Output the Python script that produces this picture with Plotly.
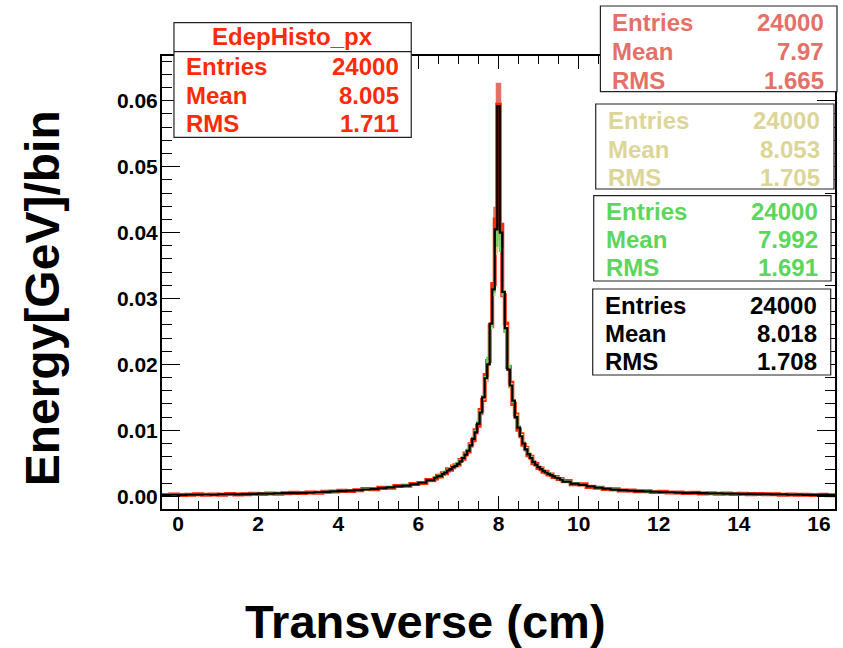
import numpy as np
import plotly.graph_objects as go

# ---------------- data ----------------
# bin edges: coarse tails, fine core around the peak at 8 cm
edges = np.concatenate([
    np.linspace(-0.4, 6.4, 35)[:-1],
    np.linspace(6.4, 9.6, 52)[:-1],
    np.linspace(9.6, 16.4, 35),
])

pink_vals = [
    0.00019,0.00021,0.00020,0.00023,0.00024,0.00025,0.00026,0.00028,0.00029,0.00031,0.00033,0.00035,0.00037,0.00040,0.00042,0.00045,0.00048,0.00051,0.00055,0.00059,0.00065,0.00071,0.00077,0.00084,0.00092,0.00101,0.00110,0.00121,0.00133,0.00147,0.00161,0.00179,0.00203,0.00235,
    0.0027,0.0029,0.0031,0.0033,0.0036,0.0038,0.0041,0.0043,0.0046,0.0049,0.0053,0.0057,0.0062,0.0068,0.0076,0.0085,0.0096,0.0109,0.0125,0.0148,0.0176,0.0205,0.0260,0.0320,0.0437,0.0625,0.0390,0.0305,0.0250,0.0195,0.0166,0.0142,0.0119,0.0103,0.0090,0.0079,0.0070,0.0063,0.0057,0.0052,0.0047,0.0044,0.0040,0.0038,0.0035,0.0033,0.0031,0.0029,0.0028,0.0026,0.0025,
    0.0022,0.0019,0.0017,0.0015,0.0013,0.0011,0.00100,0.00092,0.00084,0.00077,0.00071,0.00066,0.00062,0.00058,0.00054,0.00051,0.00048,0.00045,0.00043,0.00041,0.00039,0.00037,0.00035,0.00033,0.00031,0.00030,0.00028,0.00026,0.00024,0.00023,0.00021,0.00020,0.00018,0.00017,
]

red_vals = [
    0.00018,0.00025,0.00017,0.00022,0.00028,0.00021,0.00027,0.00024,0.00033,0.00026,0.00031,0.00038,0.00034,0.00043,0.00039,0.00044,0.00051,0.00047,0.00058,0.00053,0.00068,0.00070,0.00082,0.00080,0.00091,0.00108,0.00105,0.00127,0.00130,0.00155,0.00158,0.00185,0.00200,0.00245,
    0.0027,0.0031,0.0030,0.0035,0.0035,0.0041,0.0040,0.0045,0.0047,0.0048,0.0055,0.0057,0.0065,0.0068,0.0079,0.0085,0.0100,0.0107,0.0131,0.0146,0.0184,0.0205,0.0258,0.0322,0.0420,0.0594,0.0412,0.0305,0.0262,0.0196,0.0172,0.0140,0.0124,0.0101,0.0094,0.0078,0.0073,0.0062,0.0060,0.0050,0.0049,0.0043,0.0042,0.0037,0.0037,0.0033,0.0033,0.0029,0.0029,0.0026,0.0026,
    0.0023,0.0018,0.0018,0.0014,0.0013,0.0011,0.00104,0.00088,0.00087,0.00074,0.00075,0.00064,0.00066,0.00056,0.00057,0.00049,0.00052,0.00043,0.00046,0.00039,0.00042,0.00035,0.00037,0.00031,0.00034,0.00028,0.00030,0.00024,0.00027,0.00021,0.00023,0.00018,0.00021,0.00016,
]

khaki_vals = [
    0.00022,0.00021,0.00020,0.00025,0.00024,0.00025,0.00028,0.00027,0.00031,0.00031,0.00034,0.00036,0.00039,0.00041,0.00043,0.00047,0.00049,0.00054,0.00056,0.00062,0.00067,0.00074,0.00079,0.00087,0.00095,0.00104,0.00113,0.00124,0.00136,0.00150,0.00165,0.00183,0.00208,0.00238,
    0.0028,0.0031,0.0032,0.0035,0.0037,0.0040,0.0042,0.0045,0.0047,0.0051,0.0054,0.0059,0.0064,0.0070,0.0078,0.0088,0.0098,0.0112,0.0128,0.0148,0.0176,0.0205,0.0255,0.0305,0.0368,0.0400,0.0375,0.0312,0.0258,0.0200,0.0170,0.0146,0.0123,0.0106,0.0093,0.0082,0.0073,0.0066,0.0059,0.0054,0.0049,0.0046,0.0042,0.0039,0.0037,0.0035,0.0033,0.0031,0.0029,0.0027,0.0026,
    0.0023,0.0020,0.0017,0.0015,0.0014,0.0012,0.00105,0.00096,0.00087,0.00080,0.00074,0.00069,0.00064,0.00060,0.00056,0.00053,0.00050,0.00047,0.00045,0.00042,0.00040,0.00038,0.00036,0.00034,0.00033,0.00031,0.00029,0.00027,0.00025,0.00024,0.00022,0.00021,0.00019,0.00018,
]

green_vals = [
    0.00021,0.00020,0.00023,0.00022,0.00025,0.00027,0.00026,0.00030,0.00029,0.00032,0.00034,0.00037,0.00036,0.00042,0.00044,0.00045,0.00050,0.00053,0.00057,0.00061,0.00068,0.00071,0.00080,0.00086,0.00096,0.00104,0.00115,0.00124,0.00138,0.00150,0.00166,0.00184,0.00210,0.00245,
    0.0029,0.0030,0.0033,0.0034,0.0038,0.0039,0.0043,0.0045,0.0048,0.0050,0.0055,0.0059,0.0065,0.0071,0.0079,0.0089,0.0099,0.0113,0.0129,0.0152,0.0181,0.0210,0.0258,0.0310,0.0380,0.0406,0.0372,0.0305,0.0250,0.0198,0.0166,0.0143,0.0122,0.0106,0.0090,0.0082,0.0072,0.0065,0.0059,0.0053,0.0049,0.0045,0.0042,0.0039,0.0036,0.0035,0.0032,0.0031,0.0028,0.0028,0.0025,
    0.0022,0.0020,0.0017,0.0015,0.0013,0.0012,0.00102,0.00094,0.00085,0.00079,0.00071,0.00069,0.00062,0.00061,0.00054,0.00053,0.00049,0.00047,0.00043,0.00043,0.00039,0.00039,0.00035,0.00035,0.00031,0.00032,0.00028,0.00028,0.00024,0.00024,0.00020,0.00021,0.00018,0.00019,
]

black_vals = [
    0.00020,0.00022,0.00019,0.00024,0.00023,0.00026,0.00025,0.00028,0.00030,0.00029,0.00033,0.00035,0.00038,0.00040,0.00042,0.00046,0.00048,0.00052,0.00055,0.00060,0.00066,0.00072,0.00078,0.00085,0.00094,0.00102,0.00112,0.00122,0.00134,0.00148,0.00162,0.00180,0.00205,0.00240,
    0.0028,0.0030,0.0031,0.0034,0.0036,0.0039,0.0041,0.0044,0.0046,0.0049,0.0053,0.0058,0.0063,0.0069,0.0077,0.0087,0.0097,0.0110,0.0127,0.0150,0.0179,0.0200,0.0262,0.0314,0.0405,0.0592,0.0400,0.0310,0.0255,0.0192,0.0168,0.0145,0.0120,0.0104,0.0091,0.0080,0.0071,0.0064,0.0058,0.0052,0.0048,0.0044,0.0041,0.0038,0.0036,0.0034,0.0032,0.0030,0.0028,0.0027,0.0025,
    0.0022,0.0019,0.0017,0.0015,0.0013,0.00115,0.00100,0.00093,0.00084,0.00078,0.00072,0.00068,0.00063,0.00060,0.00055,0.00052,0.00050,0.00046,0.00044,0.00042,0.00040,0.00038,0.00036,0.00034,0.00032,0.00031,0.00028,0.00027,0.00025,0.00023,0.00021,0.00020,0.00019,0.00018,
]

stat_labels = ["Entries", "Mean", "RMS"]
pink_stats = ["24000", "7.97", "1.665"]
khaki_stats = ["24000", "8.053", "1.705"]
green_stats = ["24000", "7.992", "1.691"]
black_stats = ["24000", "8.018", "1.708"]
red_stats = ["24000", "8.005", "1.711"]
red_title = "EdepHisto_px"

x_ticks = [0, 2, 4, 6, 8, 10, 12, 14, 16]
y_ticks = [0.00, 0.01, 0.02, 0.03, 0.04, 0.05, 0.06]

# ---------------- styles ----------------
RED = "rgb(255,42,8)"
PINK = "rgb(228,112,104)"
KHAKI = "rgb(221,213,152)"
GREEN = "rgb(92,214,92)"
BLACK = "black"
FONT = "Liberation Sans, Arial, sans-serif"

W, H = 843, 648
L, R, T, B = 162, 6, 56, 139
PW, PH = W - L - R, H - T - B

def pxx(x):
    return (x - L) / PW

def pxy(y):
    return (H - B - y) / PH

fig = go.Figure()

for vals, col, lw in [(pink_vals, PINK, 3), (red_vals, RED, 4),
                      (khaki_vals, KHAKI, 2), (green_vals, GREEN, 2),
                      (black_vals, BLACK, 2.2)]:
    assert len(vals) == len(edges) - 1
    fig.add_trace(go.Scatter(
        x=list(edges), y=list(vals) + [vals[-1]],
        mode="lines", line=dict(color=col, width=lw, shape="hv"),
        showlegend=False, hoverinfo="skip"))

shapes = []
annotations = []

def stat_box(x0, x1, y0, y1, rows_y, left_x, right_x, values, color, title=None, sep=None, title_y=None):
    shapes.append(dict(type="rect", xref="paper", yref="paper",
                       x0=pxx(x0), x1=pxx(x1), y0=pxy(y1), y1=pxy(y0),
                       line=dict(color="#222", width=1.2), fillcolor="white", layer="above"))
    if title is not None:
        shapes.append(dict(type="line", xref="paper", yref="paper",
                           x0=pxx(x0), x1=pxx(x1), y0=pxy(sep), y1=pxy(sep),
                           line=dict(color="#222", width=1.2), layer="above"))
        annotations.append(dict(text=title, xref="paper", yref="paper",
                                x=pxx((x0 + x1) / 2), y=pxy(title_y), xanchor="center", yanchor="middle",
                                showarrow=False, font=dict(family=FONT, size=24, color=color, weight="bold")))
    for lab, val, ry in zip(stat_labels, values, rows_y):
        annotations.append(dict(text=lab, xref="paper", yref="paper",
                                x=pxx(left_x), y=pxy(ry), xanchor="left", yanchor="middle",
                                showarrow=False, font=dict(family=FONT, size=24, color=color, weight="bold")))
        annotations.append(dict(text=val, xref="paper", yref="paper",
                                x=pxx(right_x), y=pxy(ry), xanchor="right", yanchor="middle",
                                showarrow=False, font=dict(family=FONT, size=24, color=color, weight="bold")))

stat_box(174, 412, 22.7, 137.3, [66.7, 95, 123.3], 184, 402, red_stats, RED,
         title=red_title, sep=51.7, title_y=36.5)
stat_box(601.7, 839, 6, 91.7, [22.7, 51.7, 80], 611, 828, pink_stats, PINK)
stat_box(597, 836, 104, 189, [120, 149.3, 177.3], 607, 824, khaki_stats, KHAKI)
stat_box(595, 833, 195.7, 281, [211, 240, 267.7], 605, 822, green_stats, GREEN)
stat_box(594, 832.7, 289, 375, [305, 333.3, 361.7], 604, 821, black_stats, BLACK)

annotations.append(dict(text="Energy[GeV]/bin", xref="paper", yref="paper",
                        x=pxx(42), y=pxy(298), xanchor="center", yanchor="middle", textangle=-90,
                        showarrow=False, font=dict(family=FONT, size=48, color="black", weight="bold")))
annotations.append(dict(text="Transverse (cm)", xref="paper", yref="paper",
                        x=pxx(426), y=pxy(621), xanchor="center", yanchor="middle",
                        showarrow=False, font=dict(family=FONT, size=47, color="black", weight="bold")))

fig.update_layout(
    width=W, height=H,
    margin=dict(l=L, r=R, t=T, b=B, pad=0),
    paper_bgcolor="white", plot_bgcolor="white",
    shapes=shapes, annotations=annotations,
    xaxis=dict(range=[-0.4, 16.4], tickmode="array", tickvals=x_ticks,
               ticktext=[str(v) for v in x_ticks],
               ticks="inside", ticklen=13, tickwidth=1, tickcolor="black",
               minor=dict(dtick=0.5, tick0=0, ticks="inside", ticklen=8, tickwidth=1, tickcolor="black"),
               showline=True, linecolor="black", linewidth=2, mirror="ticks",
               showgrid=False, zeroline=False, ticklabelstandoff=-5,
               tickfont=dict(family=FONT, size=21, color="black", weight="bold")),
    yaxis=dict(range=[-0.00194, 0.0668], tickmode="array", tickvals=y_ticks,
               ticktext=["%.2f" % v for v in y_ticks],
               ticks="inside", ticklen=18, tickwidth=1, tickcolor="black",
               minor=dict(dtick=0.002, tick0=0, ticks="inside", ticklen=10, tickwidth=1, tickcolor="black"),
               showline=True, linecolor="black", linewidth=2, mirror="ticks",
               showgrid=False, zeroline=False, ticklabelstandoff=-2,
               tickfont=dict(family=FONT, size=21, color="black", weight="bold")),
)

fig.write_html(
    "out.html",
    config={"displayModeBar": False},
    post_script="document.body.style.margin='0px';document.body.style.overflow='hidden';",
)
